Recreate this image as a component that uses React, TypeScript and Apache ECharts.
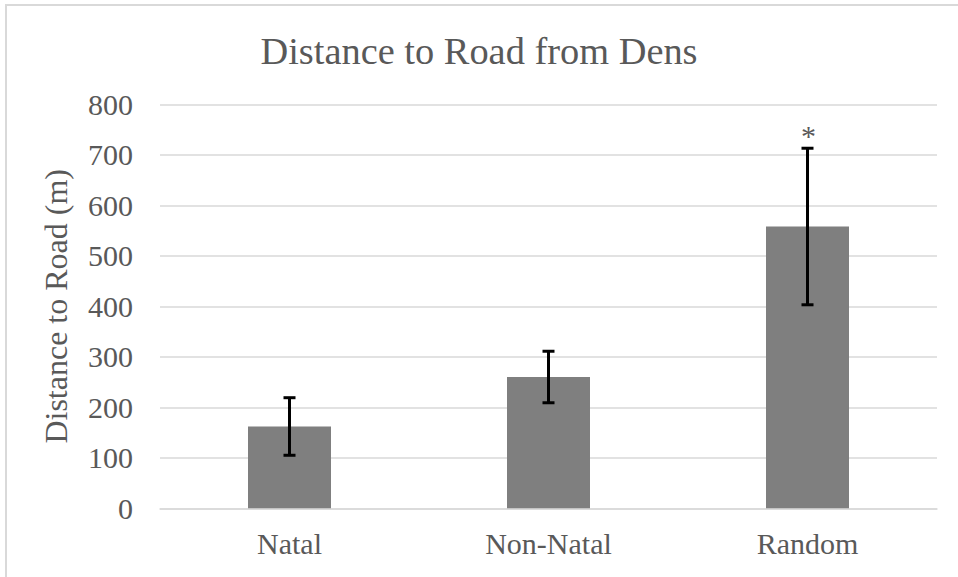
import React, { useEffect, useRef } from "react";
import * as echarts from "echarts";

const categories = ["Natal", "Non-Natal", "Random"];
const meanValues = [162, 260, 558];
const errorValues = [57, 51, 155];
const significance = ["", "", "*"];
const yTicks = { min: 0, max: 800, interval: 100 };

const FONT = "Times New Roman, Liberation Serif, serif";
const TEXT = "#595959";

export default function App() {
  const ref = useRef<HTMLDivElement>(null);
  useEffect(() => {
    if (!ref.current) return;
    const chart = echarts.init(ref.current, undefined, { renderer: "svg" });
    const errData = categories.map((c, i) => [i, meanValues[i] - errorValues[i], meanValues[i] + errorValues[i], significance[i]]);
    chart.setOption({
      animation: false,
      backgroundColor: "#ffffff",
      textStyle: { fontFamily: FONT },
      title: {
        text: "Distance to Road from Dens",
        left: "center",
        top: 27,
        textStyle: { fontFamily: FONT, fontSize: 38.4, fontWeight: "normal", color: TEXT },
      },
      graphic: [
        {
          type: "rect",
          shape: { x: 6, y: 5, width: 1000, height: 1000 },
          style: { fill: "none", stroke: "#d9d9d9", lineWidth: 2 },
          silent: true,
        },
      ],
      grid: { left: 160, right: 21, top: 104.3, bottom: 68.7, containLabel: false },
      xAxis: {
        type: "category",
        data: categories,
        axisLine: { show: true, lineStyle: { color: "#d9d9d9", width: 1.5 } },
        axisTick: { show: false },
        axisLabel: { fontFamily: FONT, fontSize: 30, color: TEXT, margin: 20 },
      },
      yAxis: {
        type: "value",
        min: yTicks.min,
        max: yTicks.max,
        interval: yTicks.interval,
        name: "Distance to Road (m)",
        nameLocation: "middle",
        nameGap: 88,
        nameTextStyle: { fontFamily: FONT, fontSize: 32, color: TEXT },
        axisLine: { show: false },
        axisTick: { show: false },
        axisLabel: { fontFamily: FONT, fontSize: 30, color: TEXT, margin: 27 },
        splitLine: { lineStyle: { color: "#d9d9d9", width: 1.5 } },
      },
      series: [
        {
          type: "bar",
          data: meanValues,
          barWidth: 83,
          itemStyle: { color: "#7f7f7f" },
          z: 2,
        },
        {
          type: "custom",
          data: errData,
          z: 5,
          renderItem: (params: any, api: any) => {
            const x = api.value(0);
            const lo = api.coord([x, api.value(1)]);
            const hi = api.coord([x, api.value(2)]);
            const half = 6;
            const style = { stroke: "#000000", lineWidth: 3 };
            const children: any[] = [
              { type: "line", shape: { x1: lo[0], y1: lo[1], x2: hi[0], y2: hi[1] }, style },
              { type: "line", shape: { x1: hi[0] - half, y1: hi[1], x2: hi[0] + half, y2: hi[1] }, style },
              { type: "line", shape: { x1: lo[0] - half, y1: lo[1], x2: lo[0] + half, y2: lo[1] }, style },
            ];
            const label = errData[params.dataIndex][3] as string;
            if (label) {
              children.push({
                type: "text",
                x: hi[0] + 1,
                y: hi[1] + 2,
                style: {
                  text: label,
                  fill: TEXT,
                  fontFamily: FONT,
                  fontSize: 30,
                  align: "center",
                  verticalAlign: "bottom",
                },
              });
            }
            return { type: "group", children };
          },
        },
      ],
    });
    return () => chart.dispose();
  }, []);
  return <div ref={ref} style={{ width: 958, height: 577, position: "absolute", left: 0, top: 0 }} />;
}
